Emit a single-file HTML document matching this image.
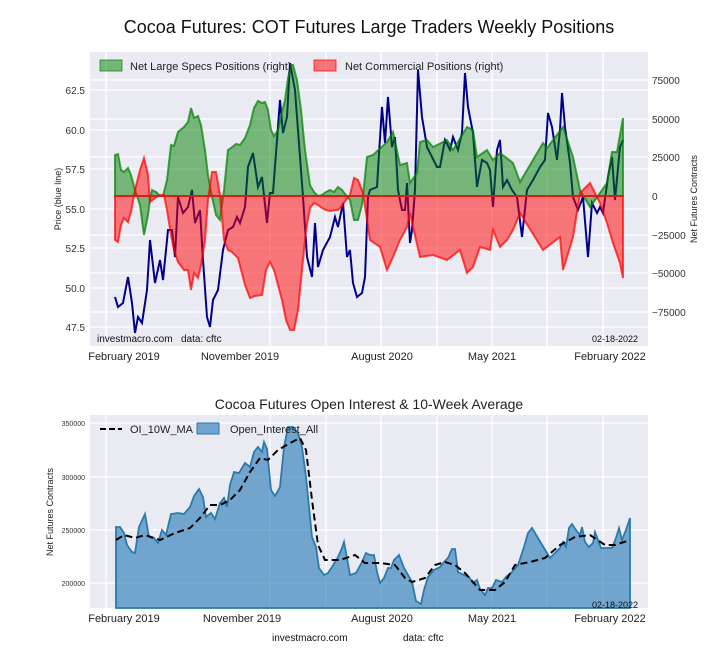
<!DOCTYPE html>
<html><head><meta charset="utf-8"><style>
body{margin:0;background:#fff;}
svg{display:block;font-family:"Liberation Sans",sans-serif;}
</style></head><body>
<svg width="720" height="660" viewBox="0 0 720 660" xmlns="http://www.w3.org/2000/svg">
<rect width="720" height="660" fill="#fff"/>
<text x="369" y="33" font-size="18" text-anchor="middle" fill="#111">Cocoa Futures: COT Futures Large Traders Weekly Positions</text>
<!-- top axes -->
<rect x="90" y="52" width="558" height="294" fill="#eaeaf2"/>
<g stroke="#fff" stroke-width="1.3">
<line x1="90" x2="648" y1="90" y2="90"/><line x1="90" x2="648" y1="130" y2="130"/><line x1="90" x2="648" y1="169" y2="169"/><line x1="90" x2="648" y1="209" y2="209"/><line x1="90" x2="648" y1="248" y2="248"/><line x1="90" x2="648" y1="288" y2="288"/><line x1="90" x2="648" y1="327" y2="327"/>
<line x1="90" x2="648" y1="80" y2="80"/><line x1="90" x2="648" y1="119" y2="119"/><line x1="90" x2="648" y1="157" y2="157"/><line x1="90" x2="648" y1="235" y2="235"/><line x1="90" x2="648" y1="273" y2="273"/><line x1="90" x2="648" y1="312" y2="312"/>
<line x1="106" x2="106" y1="52" y2="346"/><line x1="270" x2="270" y1="52" y2="346"/><line x1="326" x2="326" y1="52" y2="346"/><line x1="381" x2="381" y1="52" y2="346"/><line x1="437" x2="437" y1="52" y2="346"/><line x1="492" x2="492" y1="52" y2="346"/><line x1="547" x2="547" y1="52" y2="346"/><line x1="603" x2="603" y1="52" y2="346"/>
</g>
<polyline fill="none" stroke="#00008b" stroke-width="2" points="115,297 118,307 123,303 128,277 132,303 135,333 138,317 142,323 147,290 150,240 155,283 160,260 163,280 168,230 172,230 175,257 178,197 183,213 188,207 192,190 195,223 200,210 203,260 207,317 210,327 213,300 218,290 223,250 228,230 233,227 237,217 240,223 245,207 248,167 253,153 258,187 262,177 267,223 270,193 273,193 280,100 283,133 287,117 290,63 295,90 300,157 303,197 307,257 312,277 315,223 318,267 323,250 330,237 335,217 338,227 343,203 347,257 350,250 353,283 357,297 362,293 365,277 368,197 370,190 377,187 378,170 382,107 385,143 388,97 392,147 395,137 398,190 402,210 405,210 407,183 410,243 412,230 415,190 418,70 422,117 427,147 432,157 437,167 440,167 445,140 450,150 453,137 458,150 462,133 465,73 468,107 473,133 477,187 482,160 487,163 490,170 493,207 497,150 500,140 503,187 507,180 512,190 517,197 522,237 527,190 533,180 540,167 545,160 548,113 552,127 557,160 560,130 562,93 565,127 570,163 573,197 578,210 583,197 588,257 592,203 597,213 600,207 603,213 608,177 612,157 615,200 620,147 623,140"/>
<polygon fill="rgba(0,128,0,0.5)" stroke="rgba(0,128,0,0.7)" stroke-width="2" points="115,196 115,155 118,154 121,170 124,172 128,168 131,175 135,190 140,205 144,235 148,215 150,200 152,190 156,192 160,196 163,196 167,180 171,145 174,146 178,132 184,127 188,122 191,108 194,118 198,116 201,125 205,150 208,175 212,197 216,215 220,220 224,190 228,150 231,148 236,144 240,145 245,138 250,125 254,108 258,101 262,103 265,102 268,110 271,130 274,136 278,130 282,112 285,100 288,78 291,65 293,65 297,80 301,110 305,150 310,185 314,192 318,196 322,195 326,192 330,190 334,192 338,187 342,190 346,195 350,200 354,220 358,220 362,205 367,157 373,155 387,142 393,132 400,165 407,163 410,183 417,173 420,142 427,140 433,147 447,140 453,150 467,127 473,130 477,157 487,150 493,160 500,153 513,163 520,182 543,143 547,148 563,127 573,157 580,190 590,207 600,193 607,183 612,152 617,152 623,118 623,196"/>
<polygon fill="rgba(255,0,0,0.5)" stroke="rgba(255,0,0,0.7)" stroke-width="2" points="115,196 115,240 118,242 121,225 124,218 128,222 131,212 135,190 140,170 144,158 148,175 150,202 155,198 160,195 164,195 167,210 171,235 174,250 178,262 184,270 188,270 191,290 194,273 198,278 201,265 205,240 208,200 212,172 216,172 220,195 224,240 228,250 232,252 238,258 245,285 250,298 255,296 262,295 266,270 270,262 274,270 278,285 282,300 286,320 290,330 294,330 298,310 302,270 306,230 310,208 314,203 318,205 322,208 326,210 330,211 335,210 338,210 342,206 346,200 350,195 354,178 358,180 363,193 370,240 380,247 387,270 393,257 400,240 407,227 410,213 413,227 420,257 433,255 447,260 460,250 467,273 473,267 480,247 490,250 493,230 500,247 507,240 513,230 520,213 543,250 560,237 563,270 573,237 580,193 590,183 600,203 607,223 613,243 620,263 623,278 623,196"/>
<line x1="115" x2="623" y1="196" y2="196" stroke="rgba(220,30,30,0.8)" stroke-width="1.5"/>
<!-- legend top -->
<rect x="100" y="60" width="22" height="11" fill="rgba(0,128,0,0.5)" stroke="rgba(0,128,0,0.7)"/>
<text x="130" y="70" font-size="11" fill="#222">Net Large Specs Positions (right)</text>
<rect x="314" y="60" width="22" height="11" fill="rgba(255,0,0,0.5)" stroke="rgba(255,0,0,0.7)"/>
<text x="345" y="70" font-size="11" fill="#222">Net Commercial Positions (right)</text>
<text x="97" y="342" font-size="10" fill="#111">investmacro.com</text>
<text x="181" y="342" font-size="10" fill="#111">data: cftc</text>
<text x="592" y="342" font-size="9" fill="#111">02-18-2022</text>
<g font-size="10" fill="#333" text-anchor="end">
<text x="85" y="94">62.5</text><text x="85" y="134">60.0</text><text x="85" y="173">57.5</text><text x="85" y="213">55.0</text><text x="85" y="252">52.5</text><text x="85" y="292">50.0</text><text x="85" y="331">47.5</text>
</g>
<g font-size="10" fill="#333">
<text x="652" y="84">75000</text><text x="652" y="123">50000</text><text x="652" y="161">25000</text><text x="652" y="200">0</text><text x="652" y="239">−25000</text><text x="652" y="277">−50000</text><text x="652" y="316">−75000</text>
</g>
<g font-size="11" fill="#222" text-anchor="middle">
<text x="124" y="360">February 2019</text><text x="240" y="360">November 2019</text><text x="382" y="360">August 2020</text><text x="492" y="360">May 2021</text><text x="610" y="360">February 2022</text>
</g>
<text transform="translate(61,199) rotate(-90)" font-size="9" text-anchor="middle" fill="#222">Price (blue line)</text>
<text transform="translate(697,199) rotate(-90)" font-size="9" text-anchor="middle" fill="#222">Net Futures Contracts</text>

<!-- bottom -->
<text x="369" y="409" font-size="14" text-anchor="middle" fill="#222">Cocoa Futures Open Interest &amp; 10-Week Average</text>
<rect x="90" y="415" width="558" height="193" fill="#eaeaf2"/>
<g stroke="#fff" stroke-width="1.3">
<line x1="90" x2="648" y1="423" y2="423"/><line x1="90" x2="648" y1="477" y2="477"/><line x1="90" x2="648" y1="530" y2="530"/><line x1="90" x2="648" y1="583" y2="583"/>
<line x1="106" x2="106" y1="415" y2="608"/><line x1="270" x2="270" y1="415" y2="608"/><line x1="326" x2="326" y1="415" y2="608"/><line x1="381" x2="381" y1="415" y2="608"/><line x1="437" x2="437" y1="415" y2="608"/><line x1="492" x2="492" y1="415" y2="608"/><line x1="547" x2="547" y1="415" y2="608"/><line x1="603" x2="603" y1="415" y2="608"/>
</g>
<polygon fill="rgba(31,119,180,0.6)" stroke="#2a7aab" stroke-width="1.8" points="116,608 116,527 120,527 124,533 127,545 132,552 135,553 139,527 145,514 149,537 154,538 158,543 162,530 166,535 171,514 178,513 184,514 190,507 194,496 199,489 203,497 206,517 211,513 215,519 220,503 224,498 227,507 230,485 234,472 239,473 245,463 250,467 254,452 258,447 262,452 264,442 267,449 271,490 275,496 280,487 284,447 288,427 293,427 298,433 302,447 306,477 312,537 316,547 319,568 324,575 328,573 332,567 338,557 342,548 344,542 347,558 350,575 356,573 362,562 366,553 370,555 374,555 377,572 380,583 384,578 388,568 391,568 394,560 399,555 404,568 408,575 412,582 416,601 421,604 424,590 428,577 434,570 440,567 444,562 448,558 452,549 455,549 458,572 464,575 469,577 473,583 477,580 480,589 485,595 488,588 492,588 496,580 502,582 506,577 512,572 518,565 524,547 528,533 532,528 538,538 550,558 555,553 560,548 563,542 566,547 569,528 572,524 576,530 580,535 582,527 585,542 589,547 593,543 595,532 598,540 601,548 608,548 612,548 616,538 619,528 622,540 626,530 630,518 630,608"/>
<polyline fill="none" stroke="#000" stroke-width="2" stroke-dasharray="7,4" points="116,540 124,535 135,538 145,535 160,540 175,533 190,528 200,518 210,505 220,505 230,500 240,490 250,472 260,458 268,460 278,450 290,443 300,438 306,450 312,500 318,545 325,560 340,560 355,555 365,563 380,563 395,565 405,578 412,582 425,578 435,565 445,562 455,565 465,573 480,590 495,590 505,582 515,565 530,562 545,558 560,545 575,537 590,535 605,545 615,545 630,540"/>
<line x1="100" x2="122" y1="429" y2="429" stroke="#000" stroke-width="2" stroke-dasharray="6,3"/>
<text x="130" y="433" font-size="11" fill="#222">OI_10W_MA</text>
<rect x="197" y="423" width="22" height="11" fill="rgba(31,119,180,0.6)" stroke="#2a7aab"/>
<text x="230" y="433" font-size="11" fill="#222">Open_Interest_All</text>
<text x="592" y="608" font-size="9" fill="#111">02-18-2022</text>
<g font-size="7" fill="#333" text-anchor="end">
<text x="85" y="426">350000</text><text x="85" y="480">300000</text><text x="85" y="533">250000</text><text x="85" y="586">200000</text>
</g>
<g font-size="11" fill="#222" text-anchor="middle">
<text x="124" y="622">February 2019</text><text x="242" y="622">November 2019</text><text x="382" y="622">August 2020</text><text x="492" y="622">May 2021</text><text x="610" y="622">February 2022</text>
</g>
<text transform="translate(53,512) rotate(-90)" font-size="9" text-anchor="middle" fill="#222">Net Futures Contracts</text>
<text x="272" y="641" font-size="10" fill="#111">investmacro.com</text>
<text x="403" y="641" font-size="10" fill="#111">data: cftc</text>
</svg>
</body></html>
